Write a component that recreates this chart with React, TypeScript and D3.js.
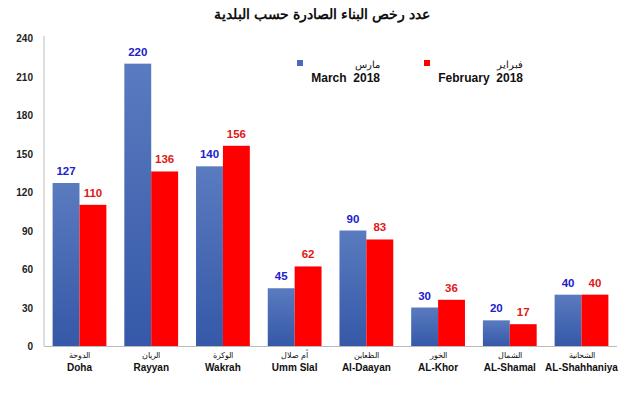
import React from 'react';
import { scaleBand, scaleLinear } from 'd3';

const categories = ['Doha', 'Rayyan', 'Wakrah', 'Umm Slal', 'Al-Daayan', 'AL-Khor', 'AL-Shamal', 'AL-Shahhaniya'];
const categoriesAr = ['الدوحة', 'الريان', 'الوكرة', 'أم صلال', 'الظعاين', 'الخور', 'الشمال', 'الشحانية'];
const march = [127, 220, 140, 45, 90, 30, 20, 40];
const february = [110, 136, 156, 62, 83, 36, 17, 40];
const yTicks = [0, 30, 60, 90, 120, 150, 180, 210, 240];

const W = 637;
const H = 398;
const font = 'Arial, "Liberation Sans", sans-serif';

export default function App() {
  const x = scaleBand<string>().domain(categories).range([44, 617]).paddingInner(0.25).paddingOuter(0.12);
  const y = scaleLinear().domain([0, 240]).range([346, 38]);
  const bw = x.bandwidth() / 2;

  return (
    <svg width={W} height={H} style={{ position: 'absolute', left: 0, top: 0, background: '#fff' }} fontFamily={font}>
      <defs>
        <linearGradient id="blueGrad" x1="0" y1="0" x2="0" y2="1">
          <stop offset="0%" stopColor="#5a7bbf" />
          <stop offset="100%" stopColor="#3558a8" />
        </linearGradient>
      </defs>
      <text x={322} y={19} textAnchor="middle" fontSize={14} fontWeight="bold" fill="#111">
        عدد رخص البناء الصادرة حسب البلدية
      </text>

      {/* axis */}
      <line x1={44} x2={44} y1={36} y2={346} stroke="#bbb" />
      <line x1={44} x2={617} y1={346.5} y2={346.5} stroke="#bbb" />
      {yTicks.map(t => (
        <text key={t} x={33} y={y(t) + 4} textAnchor="end" fontSize={10} fontWeight="bold" fill="#222">{t}</text>
      ))}

      {/* bars */}
      {categories.map((c, i) => {
        const x0 = x(c) as number;
        return (
          <g key={c}>
            <rect x={x0} y={y(march[i])} width={bw} height={346 - y(march[i])} fill="url(#blueGrad)" />
            <rect x={x0 + bw} y={y(february[i])} width={bw} height={346 - y(february[i])} fill="#ff0000" />
            <text x={x0 + bw / 2} y={y(march[i]) - 8} textAnchor="middle" fontSize={11.5} fontWeight="bold" fill="#2020cc">{march[i]}</text>
            <text x={x0 + bw * 1.5} y={y(february[i]) - 8} textAnchor="middle" fontSize={11.5} fontWeight="bold" fill="#e01818">{february[i]}</text>
            <text x={x0 + bw} y={358} textAnchor="middle" fontSize={8} fill="#111">{categoriesAr[i]}</text>
            <text x={x0 + bw} y={371} textAnchor="middle" fontSize={10} fontWeight="bold" fill="#111">{c}</text>
          </g>
        );
      })}

      {/* legend */}
      <rect x={297} y={60} width={6} height={6} fill="#4a6cb8" />
      <text x={380} y={68} textAnchor="end" fontSize={10} fill="#111">مارس</text>
      <text x={380} y={82} textAnchor="end" fontSize={12} fontWeight="bold" fill="#111" xmlSpace="preserve">March  2018</text>
      <rect x={424} y={60} width={6} height={6} fill="#ff0000" />
      <text x={523} y={68} textAnchor="end" fontSize={10} fill="#111">فبراير</text>
      <text x={523} y={82} textAnchor="end" fontSize={12} fontWeight="bold" fill="#111" xmlSpace="preserve">February  2018</text>
    </svg>
  );
}
